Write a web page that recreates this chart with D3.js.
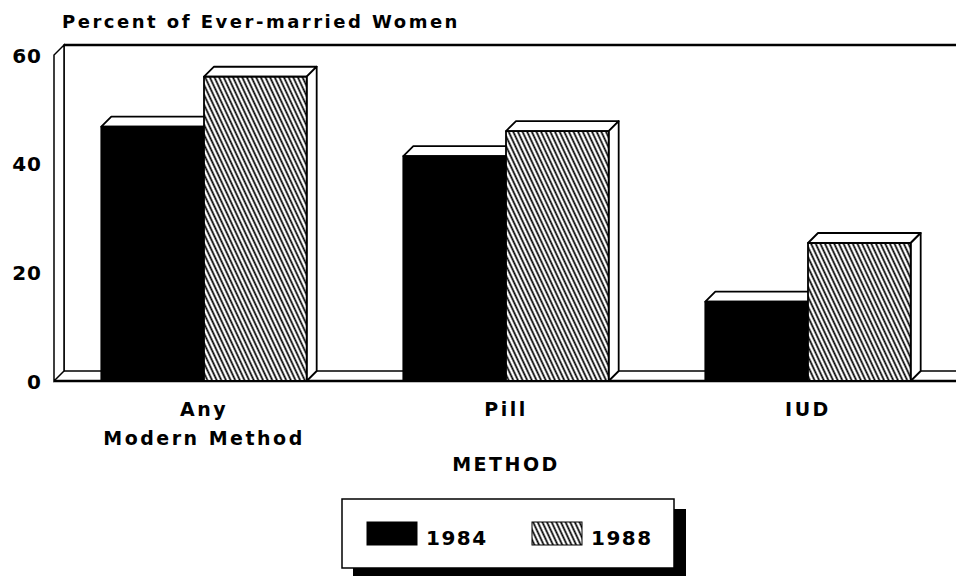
<!DOCTYPE html>
<html>
<head>
<meta charset="utf-8">
<script src="https://cdn.jsdelivr.net/npm/d3@7"></script>
<style>
  body { margin: 0; background: #fff; }
  text { font-family: "DejaVu Sans", sans-serif; font-weight: bold; fill: #000; }
</style>
</head>
<body>
<script>
// chart values
var categories = ["Any Modern Method", "Pill", "IUD"];
var categoryLines = [["Any", "Modern Method"], ["Pill"], ["IUD"]];
var years = ["1984", "1988"];
var values1984 = [46.8, 41.4, 14.6];
var values1988 = [56, 46, 25.4];
var yTicks = [0, 20, 40, 60];

var width = 956, height = 576, depth = 10;

var svg = d3.select("body").append("svg")
    .attr("width", width)
    .attr("height", height);

//Hatch pattern for 1988
var defs = svg.append("defs");
var hatch = defs.append("pattern")
    .attr("id", "hatch")
    .attr("patternUnits", "userSpaceOnUse")
    .attr("width", 4.2)
    .attr("height", 10)
    .attr("patternTransform", "rotate(-25)");
hatch.append("rect").attr("width", 4.2).attr("height", 10).attr("fill", "#fff");
hatch.append("line")
    .attr("x1", 2.1).attr("x2", 2.1).attr("y1", -1).attr("y2", 11)
    .attr("stroke", "#000").attr("stroke-width", 1.7);

var y = d3.scaleLinear().domain([0, 60]).range([381, 55]);
var x = d3.scaleBand().domain(categories).range([53, 959])
    .paddingInner(0.32).paddingOuter(0.16);
var xSub = d3.scaleBand().domain(years).range([0, x.bandwidth()]);

var x0 = 54, y0 = y(0), yTop = y(60);

//Back wall, floor and left wall
var box = svg.append("g").attr("fill", "none").attr("stroke", "#000");
box.append("rect")
    .attr("x", x0 + depth).attr("y", yTop - depth)
    .attr("width", 1000).attr("height", y0 - yTop)
    .attr("fill", "#fff").attr("stroke-width", 1.5);
box.append("line")
    .attr("x1", x0 + depth).attr("x2", width).attr("y1", yTop - depth).attr("y2", yTop - depth)
    .attr("stroke-width", 2.5);
box.append("path")
    .attr("d", "M" + x0 + "," + y0 + "L" + x0 + "," + yTop + "L" + (x0 + depth) + "," + (yTop - depth) +
        "L" + (x0 + depth) + "," + (y0 - depth) + "Z")
    .attr("fill", "#fff").attr("stroke-width", 1.5);
box.append("line")
    .attr("x1", x0).attr("x2", width).attr("y1", y0).attr("y2", y0)
    .attr("stroke-width", 2.5);

//Y axis labels
var yAxis = svg.append("g")
    .attr("transform", "translate(42,0)")
    .call(d3.axisLeft(y).tickValues(yTicks).tickSize(0).tickPadding(0));
yAxis.select(".domain").remove();
yAxis.selectAll("text")
    .attr("font-size", 20)
    .style("letter-spacing", "1px")
    .attr("dy", "0.36em")
    .attr("fill", "#000");

//Bars
var series = [
    { year: "1984", values: values1984, fill: "#000" },
    { year: "1988", values: values1988, fill: "url(#hatch)" }
];

series.forEach(function (s, si) {
    categories.forEach(function (c, i) {
        var bx = x(c) + xSub(s.year), bw = xSub.bandwidth();
        var by = y(s.values[i]);
        var g = svg.append("g").attr("stroke", "#000").attr("stroke-width", 1.8)
            .attr("stroke-linejoin", "round");

        //top face
        g.append("path")
            .attr("d", "M" + bx + "," + by + "L" + (bx + depth) + "," + (by - depth) +
                "L" + (bx + bw + depth) + "," + (by - depth) + "L" + (bx + bw) + "," + by + "Z")
            .attr("fill", "#fff");

        //right side face, seen only on the last bar of a group
        if (si === series.length - 1) {
            g.append("path")
                .attr("d", "M" + (bx + bw) + "," + by + "L" + (bx + bw + depth) + "," + (by - depth) +
                    "L" + (bx + bw + depth) + "," + (y0 - depth) + "L" + (bx + bw) + "," + y0 + "Z")
                .attr("fill", "#fff");
        }

        //front face
        g.append("rect")
            .attr("x", bx).attr("y", by)
            .attr("width", bw).attr("height", y0 - by)
            .attr("fill", s.fill);
    });
});

//Category labels
categories.forEach(function (c, i) {
    var t = svg.append("text")
        .attr("text-anchor", "middle")
        .attr("font-size", 19)
        .style("letter-spacing", "2.5px");
    categoryLines[i].forEach(function (line, j) {
        t.append("tspan")
            .attr("x", x(c) + x.bandwidth() / 2)
            .attr("y", 416 + j * 29)
            .text(line);
    });
});

//Axis titles
svg.append("text")
    .attr("x", 62).attr("y", 28)
    .attr("font-size", 18)
    .style("letter-spacing", "2.5px")
    .text("Percent of Ever-married Women");

svg.append("text")
    .attr("x", x("Pill") + x.bandwidth() / 2).attr("y", 471)
    .attr("text-anchor", "middle")
    .attr("font-size", 19)
    .style("letter-spacing", "2.5px")
    .text("METHOD");

//Legend
var legend = svg.append("g");
legend.append("rect")
    .attr("x", 353).attr("y", 509).attr("width", 333).attr("height", 70)
    .attr("fill", "#000");
legend.append("rect")
    .attr("x", 342).attr("y", 499).attr("width", 332).attr("height", 69)
    .attr("fill", "#fff").attr("stroke", "#000").attr("stroke-width", 1.5);

var legendItems = [
    { label: "1984", fill: "#000", x: 367 },
    { label: "1988", fill: "url(#hatch)", x: 532 }
];
legendItems.forEach(function (d) {
    legend.append("rect")
        .attr("x", d.x).attr("y", 522).attr("width", 50).attr("height", 23)
        .attr("fill", d.fill).attr("stroke", "#000").attr("stroke-width", 1);
    legend.append("text")
        .attr("x", d.x + 59).attr("y", 545)
        .attr("font-size", 20)
        .style("letter-spacing", "1.5px")
        .text(d.label);
});
</script>
</body>
</html>
